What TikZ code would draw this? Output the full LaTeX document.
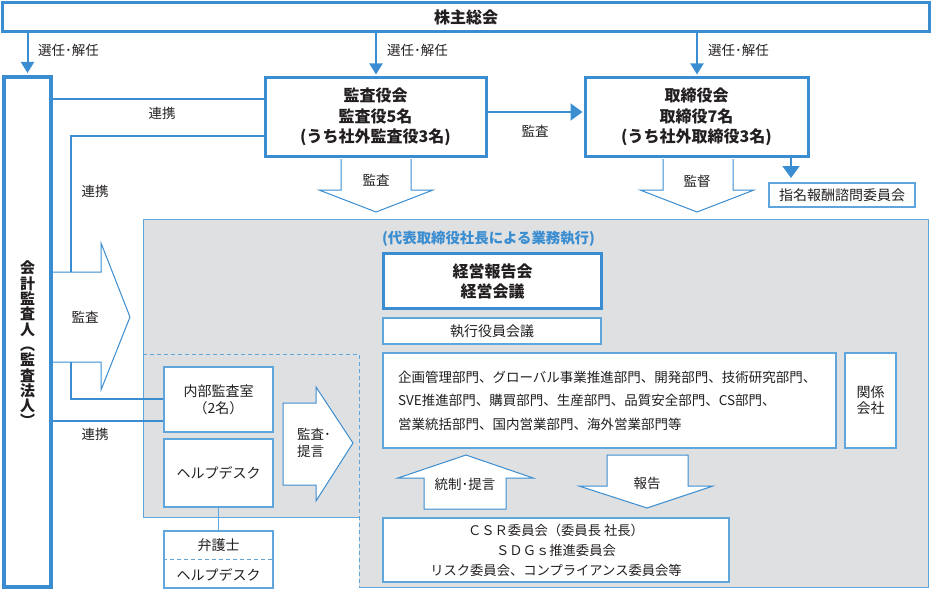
\documentclass[tikz,border=0pt]{standalone}
\usepackage{fontspec}
\setmainfont{Noto Sans CJK JP}
\usetikzlibrary{arrows.meta}
\definecolor{orgblue}{HTML}{3A8DD0}
\definecolor{orgline}{HTML}{5FA6DC}
\definecolor{orggray}{HTML}{DFE0E2}
\definecolor{orgtext}{HTML}{231F20}
\tikzset{every node/.style={text=orgtext, inner sep=0pt},
  bigbox/.style={draw=orgblue, line width=3pt, fill=white, align=center, font=\fontsize{16}{20.5}\selectfont\bfseries},
  smallbox/.style={draw=orgline, line width=1.2pt, fill=white, align=center, font=\fontsize{14}{16}\selectfont},
  link/.style={draw=orgblue, line width=1.6pt},
  elect/.style={link, line width=2pt, -{Triangle[width=13pt,length=11pt]}},
  push/.style={link, line width=2pt, -{Triangle[width=17pt,length=12pt]}},
  fatarrow/.style={draw=orgblue, line width=1pt, fill=white},
  lbl/.style={font=\fontsize{13.5}{16}\selectfont}}

\begin{document}
\begin{tikzpicture}[x=1pt,y=-1pt]
  \useasboundingbox (0,0) rectangle (933,591);
  % execution area
  \fill[orggray] (143,219) -- (928,219) -- (928,587) -- (359,587) -- (359,517) -- (143,517) -- cycle;
  \draw[orgline, line width=1pt] (359,587) -- (928,587) -- (928,219) -- (143,219) -- (143,517) -- (359,517);
  \draw[orgline, line width=1pt, dash pattern=on 4pt off 3pt] (143,354) -- (359,354) -- (359,587);

  \node[bigbox, minimum width=927pt, minimum height=29pt] (agm) at (466,17.5) {株主総会};
  \node[bigbox, line width=4pt, minimum width=47pt, minimum height=510pt] (acct) at (27.5,332) {};
  \node[font=\fontsize{15}{15.3}\selectfont\bfseries, align=center] (acctname) at (27.5,344)
    {会\\計\\監\\査\\人\\︵\\監\\査\\法\\人\\︶};
  \node[bigbox, minimum width=221pt, minimum height=78pt] (kansa) at (375.5,117)
    {監査役会\\監査役5名\\(うち社外監査役3名)};
  \node[bigbox, minimum width=223pt, minimum height=78pt] (tori) at (696.5,117)
    {取締役会\\取締役7名\\(うち社外取締役3名)};
  \node[smallbox, minimum width=146pt, minimum height=24pt] (shimei) at (842,195) {指名報酬諮問委員会};

  \draw[elect, shorten >=2pt] (agm.south -| acct.north) -- (acct.north);
  \draw[elect, shorten >=2pt] (agm.south -| 376,0) -- (kansa.north -| 376,0);
  \draw[elect, shorten >=2pt] (agm.south -| 697,0) -- (tori.north -| 697,0);
  \node[lbl, anchor=west] (sel1) at (38,50) {選任･解任};
  \node[lbl, anchor=west] (sel2) at (387,50) {選任･解任};
  \node[lbl, anchor=west] (sel3) at (708,50) {選任･解任};

  \draw[push, shorten >=1pt] (kansa.east |- 0,112) -- (tori.west |- 0,112);
  \node[lbl] (audit1) at (535,131) {監査};
  \draw[push, -{Triangle[width=17pt,length=12pt]}] (tori.south -| 791,0) -- (791,178);

  % links with the accounting auditor
  \draw[link] (kansa.west |- 0,99) -- (acct.east |- 0,99);
  \node[lbl] (link1) at (162,113) {連携};
  \draw[link] (kansa.west |- 0,136) -| (71,399) -- (164,399);
  \node[lbl] (link2) at (95,191) {連携};
  \draw[link] (acct.east |- 0,421) -- (164,421);
  \node[lbl] (link3) at (95,434) {連携};

  % fat arrows
  \path[fatarrow] (53,272) -- (101,272) -- (101,243) -- (130,317) -- (101,390) -- (101,362) -- (53,362);
  \node[lbl] (audit2) at (85,317) {監査};
  \path[fatarrow] (341,159) -- (341,190) -- (319,190) -- (376,212) -- (433,190) -- (411,190) -- (411,159);
  \node[lbl] (audit3) at (376,180) {監査};
  \path[fatarrow] (663,159) -- (663,190) -- (640,190) -- (697,212) -- (754,190) -- (733,190) -- (733,159);
  \node[lbl] (super) at (697,181) {監督};
  \path[fatarrow] (283,403) -- (316,403) -- (316,387) -- (353,443) -- (316,501) -- (316,485) -- (283,485) -- cycle;
  \node[lbl, anchor=west, align=left, font=\fontsize{13.5}{16.5}\selectfont] (advice) at (297,443) {監査･\\提言};
  \path[fatarrow] (424,509) -- (424,478) -- (398,478) -- (466,455) -- (533,478) -- (506,478) -- (506,509) -- cycle;
  \node[lbl] (control) at (465,484) {統制･提言};
  \path[fatarrow] (607,455) -- (688,455) -- (688,486) -- (713,486) -- (647,508) -- (579,486) -- (607,486) -- cycle;
  \node[lbl] (report) at (647,483) {報告};

  % internal audit
  \node[smallbox, minimum width=109pt, minimum height=65pt, font=\fontsize{14}{17}\selectfont] (naibu) at (218.5,399.5)
    {内部監査室\\（2名）};
  \node[smallbox, minimum width=109pt, minimum height=68pt] (help) at (218.5,473) {ヘルプデスク};
  \node[smallbox, minimum width=109pt, minimum height=57pt, font=\fontsize{14}{30}\selectfont] (lawyer) at (218.5,559.5)
    {弁護士\\ヘルプデスク};
  \draw[orgline, line width=1pt, dash pattern=on 4pt off 3pt] (lawyer.west) -- (lawyer.east);
  \draw[orgline, line width=1.2pt] (help.south) -- (lawyer.north);

  % business execution
  \node[anchor=west, text=orgblue, font=\fontsize{14.4}{16}\selectfont\bfseries] (exec) at (382,239)
    {(代表取締役社長による業務執行)};
  \node[bigbox, minimum width=218pt, minimum height=55pt, font=\fontsize{16}{20}\selectfont\bfseries] (meeting) at (492.5,281)
    {経営報告会\\経営会議};
  \node[smallbox, minimum width=218pt, minimum height=26pt] (officers) at (492,331) {執行役員会議};
  \node[smallbox, text width=423pt, inner xsep=15pt, minimum height=95pt, align=left,
    font=\fontsize{13.5}{23.5}\selectfont] (dept) at (609.5,400.5)
    {企画管理部門、グローバル事業推進部門、開発部門、技術研究部門、\\
     SVE推進部門、購買部門、生産部門、品質安全部門、CS部門、\\
     営業統括部門、国内営業部門、海外営業部門等};
  \node[smallbox, minimum width=51pt, minimum height=95pt] (group) at (870.5,400.5) {関係\\会社};
  \node[smallbox, minimum width=346pt, minimum height=64pt, font=\fontsize{13.3}{20}\selectfont] (csr) at (556,550)
    {ＣＳＲ委員会（委員長 社長）\\ＳＤＧｓ推進委員会\\リスク委員会、コンプライアンス委員会等};
\end{tikzpicture}
\end{document}
